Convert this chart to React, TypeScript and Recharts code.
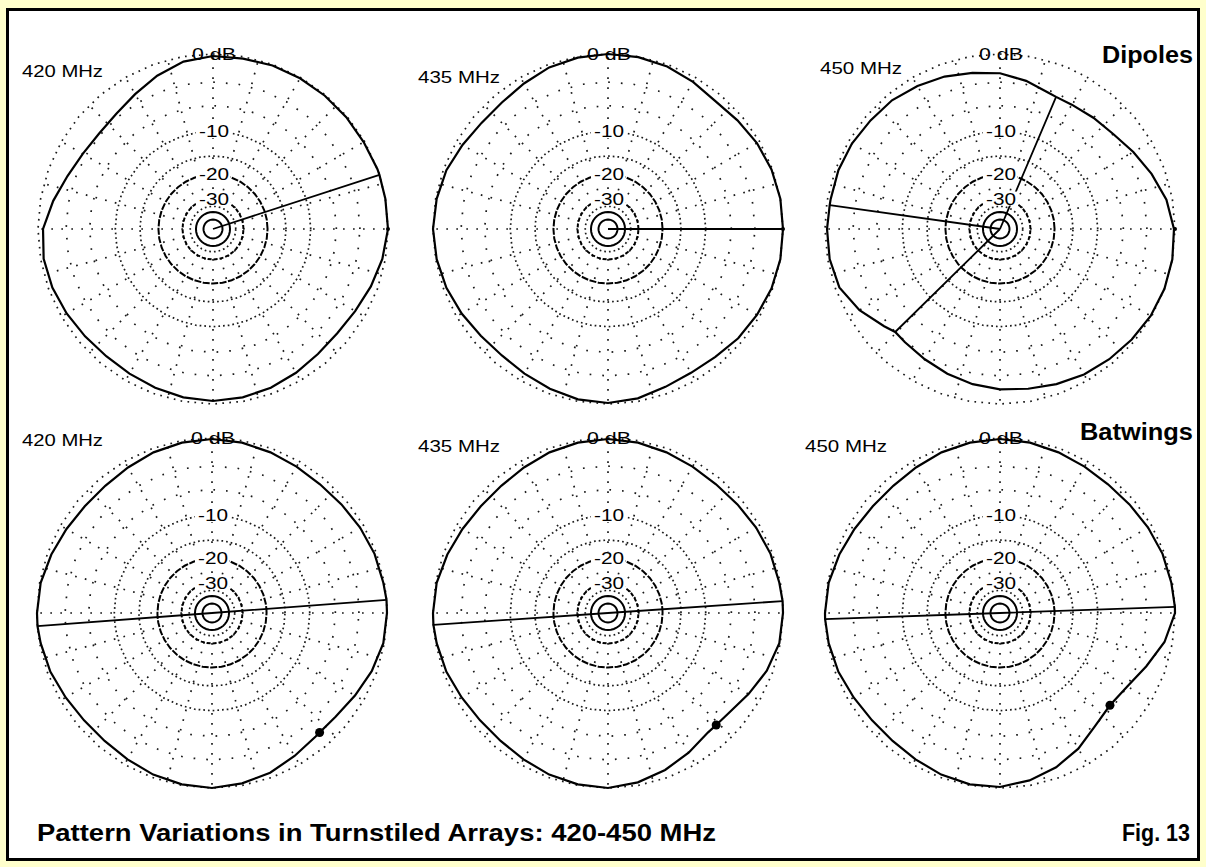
import React from 'react';
import { RadarChart, Radar, PolarGrid, PolarAngleAxis, PolarRadiusAxis } from 'recharts';

// ---------- data ----------
const AZIMUTHS = [0, 10, 20, 30, 40, 50, 60, 70, 80, 90, 100, 110, 120, 130, 140, 150, 160, 170, 180, 190, 200, 210, 220, 230, 240, 250, 260, 270, 280, 290, 300, 310, 320, 330, 340, 350];
const SPOKE_AZ = [0, 15, 30, 45, 60, 75, 90, 105, 120, 135, 150, 165, 180, 195, 210, 225, 240, 255, 270, 285, 300, 315, 330, 345];
const RING_DB = [0, -3, -6, -10, -15, -20, -30, -35, -40, -50];
const TICK_DB = [0, -10, -20, -30];
const TICK_LABELS = ['0 dB', '-10', '-20', '-30'];

// relative field strength (dB) at AZIMUTHS
const DIP_420 = [0, 0, 0, -0.1, -0.1, -0.1, -0.1, -0.1, -0.2, -0.2, -0.5, -1.2, -2.0, -2.6, -2.8, -2.6, -2.1, -1.3, -0.5, -0.3, -0.4, -0.6, -0.8, -0.9, -0.8, -0.6, -0.4, -0.3, -0.4, -0.6, -0.9, -1.2, -1.3, -1.1, -0.7, -0.3];
const DIP_435 = [0, 0, -0.1, -0.3, -0.6, -0.8, -0.5, -0.2, -0.05, 0, -0.1, -0.3, -0.7, -1.0, -1.0, -0.7, -0.3, -0.1, 0, -0.1, -0.3, -0.6, -0.9, -1.0, -0.8, -0.5, -0.2, -0.1, -0.3, -0.7, -0.9, -0.8, -0.5, -0.3, -0.1, 0];
const DIP_450 = [-0.1, -0.6, -1.4, -2.2, -2.9, -3.2, -3.4, -3.3, -2.6, -2.0, -1.7, -1.3, -1.0, -0.7, -0.6, -0.4, -0.3, -0.3, -0.2, -0.2, -0.4, -1.3, -2.5, -2.9, -2.6, -2.2, -1.8, -1.5, -1.3, -1.0, -0.7, -0.5, -0.3, -0.1, 0, 0];
const BAT_420 = [0, -0.1, -0.2, -0.4, -0.6, -0.7, -0.6, -0.4, -0.2, -0.1, -0.2, -0.4, -0.7, -0.9, -0.9, -0.7, -0.4, -0.1, 0, -0.1, -0.3, -0.6, -0.8, -0.8, -0.6, -0.3, -0.1, 0, -0.2, -0.5, -1.0, -1.4, -1.4, -1.0, -0.5, -0.1];
const BAT_435 = [0, -0.1, -0.2, -0.4, -0.6, -0.7, -0.6, -0.4, -0.2, -0.1, -0.2, -0.4, -0.7, -0.9, -0.9, -0.7, -0.4, -0.1, 0, -0.1, -0.3, -0.6, -0.8, -0.8, -0.6, -0.3, -0.1, 0, -0.3, -0.8, -1.4, -2.0, -1.9, -1.3, -0.6, -0.1];
const BAT_450 = [0, -0.1, -0.2, -0.4, -0.6, -0.7, -0.6, -0.4, -0.2, -0.1, -0.2, -0.4, -0.7, -0.9, -0.9, -0.7, -0.4, -0.1, 0, -0.1, -0.3, -0.6, -0.8, -0.8, -0.6, -0.3, -0.1, -0.1, -0.5, -1.1, -1.9, -2.9, -3.4, -3.0, -2.0, -0.8];

// lines drawn from the plot centre to the pattern (azimuth, dB at the end)
const DIP_420_LINES = [{ az: 18, db: 0 }];
const DIP_435_LINES = [{ az: 0, db: 0 }];
const DIP_450_LINES = [{ az: 67, db: -3.4 }, { az: 172, db: -0.3 }, { az: 224.5, db: -3.0 }];
const BAT_420_LINES = [{ az: 4.3, db: 0 }, { az: 184.3, db: 0 }];
const BAT_435_LINES = [{ az: 3.9, db: 0 }, { az: 183.9, db: 0 }];
const BAT_450_LINES = [{ az: 2, db: 0 }, { az: 182, db: 0 }];

// cursor markers on the pattern
const DIP_420_MARK = { az: 0, db: 0 };
const DIP_435_MARK = { az: 0, db: 0 };
const DIP_450_MARK = { az: 0, db: 0 };
const BAT_420_MARK = { az: 312, db: -1.45 };
const BAT_435_MARK = { az: 314, db: -2.0 };
const BAT_450_MARK = { az: 320, db: -3.4 };

// ---------- helpers ----------
// ARRL log-periodic radial scale: 0.89 per 2 dB
const arrl = (db: number) => Math.pow(0.89, -db / 2);

function buildTable(pattern: number[], lines: { az: number; db: number }[], mark: { az: number; db: number }) {
  const extra = [...lines, mark].filter((p) => AZIMUTHS.indexOf(p.az) < 0);
  const set = new Set<number>([...AZIMUTHS, ...extra.map((p) => p.az)]);
  const azs = Array.from(set).sort((a, b) => a - b);
  return azs.map((az) => {
    const row: any = { az };
    const i = AZIMUTHS.indexOf(az);
    const ex = extra.find((p) => p.az === az);
    row.pattern = i >= 0 ? arrl(pattern[i]) : arrl(ex ? ex.db : 0);
    RING_DB.forEach((db, k) => {
      row['ring' + k] = arrl(db);
    });
    row.mask = arrl(-31);
    lines.forEach((l, k) => {
      row['line' + k] = az === l.az ? arrl(l.db) : 0;
    });
    row.mark = az === mark.az ? arrl(mark.db) : 0;
    return row;
  });
}

function ringStyle(db: number) {
  switch (db) {
    case 0:
      return { stroke: '#1a1a1a', strokeWidth: 1.7, strokeDasharray: '1.7 5.3' };
    case -3:
    case -6:
      return { stroke: '#1a1a1a', strokeWidth: 1.7, strokeDasharray: '1.7 11' };
    case -10:
    case -15:
    case -35:
      return { stroke: '#1a1a1a', strokeWidth: 1.7, strokeDasharray: '1.7 3' };
    case -20:
      return { stroke: '#000', strokeWidth: 2, strokeDasharray: '7 1.5' };
    case -30:
      return { stroke: '#000', strokeWidth: 2, strokeDasharray: '4 2' };
    default:
      return { stroke: '#000', strokeWidth: 2, strokeDasharray: undefined };
  }
}

const FONT = '"Liberation Sans", Arial, Helvetica, sans-serif';
const TICK_WIDTHS = [44, 30, 30, 30];

function RadiusTick(props: any) {
  const { x, y, payload } = props;
  const idx = TICK_DB.findIndex((d) => Math.abs(arrl(d) - payload.value) < 1e-6);
  if (idx < 0) return null;
  const w = TICK_WIDTHS[idx];
  return (
    <g>
      {idx > 0 && <rect x={x - w / 2 - 2} y={y - 7} width={w + 4} height={14} fill="#fff" />}
      <text x={x + 1} y={y + 6} textAnchor="middle" fontSize={17} fontFamily={FONT} fill="#000" textLength={w} lengthAdjust="spacingAndGlyphs">
        {TICK_LABELS[idx]}
      </text>
    </g>
  );
}

function MarkDot(props: any) {
  const { cx, cy, value, big } = props;
  if (!value || !isFinite(cx) || !isFinite(cy)) return <g />;
  return <circle cx={cx} cy={cy} r={big ? 4.5 : 2} fill="#000" />;
}

function Panel({ cx, cy, pattern, lines, mark, big }: any) {
  const data = buildTable(pattern, lines, mark);
  return (
    <div style={{ position: 'absolute', left: cx - 200, top: cy - 200, width: 400, height: 400 }}>
      <RadarChart width={400} height={400} data={data} startAngle={0} endAngle={360} outerRadius={175} innerRadius={0} margin={{ top: 0, right: 0, bottom: 0, left: 0 }}>
        <PolarGrid gridType="circle" polarAngles={SPOKE_AZ} polarRadius={[]} stroke="#1a1a1a" strokeWidth={1.7} strokeDasharray="1.7 8.3" />
        <PolarAngleAxis dataKey="az" type="number" domain={[0, 360]} tick={false} axisLine={false} tickLine={false} />
        <Radar dataKey="mask" stroke="none" fill="#fff" fillOpacity={1} dot={false} isAnimationActive={false} legendType="none" />
        {RING_DB.map((db, k) => {
          const s = ringStyle(db);
          return (
            <Radar key={'r' + k} dataKey={'ring' + k} fill="none" stroke={s.stroke} strokeWidth={s.strokeWidth} strokeDasharray={s.strokeDasharray} dot={false} isAnimationActive={false} legendType="none" />
          );
        })}
        <Radar dataKey="pattern" fill="none" stroke="#000" strokeWidth={2.2} dot={false} isAnimationActive={false} legendType="none" />
        {lines.map((l: any, k: number) => (
          <Radar key={'l' + k} dataKey={'line' + k} fill="none" stroke="#000" strokeWidth={1.8} dot={false} isAnimationActive={false} legendType="none" />
        ))}
        <Radar dataKey="mark" fill="none" stroke="none" dot={(p: any) => <MarkDot key={'m' + p.index} {...p} big={big} />} isAnimationActive={false} legendType="none" />
        <PolarRadiusAxis angle={90} domain={[0, 1]} ticks={TICK_DB.map(arrl)} axisLine={false} tick={<RadiusTick />} tickLine={false} />
      </RadarChart>
    </div>
  );
}

const PANELS = [
  { cx: 213, cy: 229, pattern: DIP_420, lines: DIP_420_LINES, mark: DIP_420_MARK, big: false },
  { cx: 608, cy: 229, pattern: DIP_435, lines: DIP_435_LINES, mark: DIP_435_MARK, big: false },
  { cx: 1000, cy: 229, pattern: DIP_450, lines: DIP_450_LINES, mark: DIP_450_MARK, big: false },
  { cx: 212, cy: 613, pattern: BAT_420, lines: BAT_420_LINES, mark: BAT_420_MARK, big: true },
  { cx: 608, cy: 613, pattern: BAT_435, lines: BAT_435_LINES, mark: BAT_435_MARK, big: true },
  { cx: 1000, cy: 613, pattern: BAT_450, lines: BAT_450_LINES, mark: BAT_450_MARK, big: true },
];

export default function App() {
  const small = { fontFamily: FONT, fontSize: 17, fill: '#000' } as any;
  const bold = { fontFamily: FONT, fontWeight: 'bold', fill: '#000', whiteSpace: 'pre' } as any;
  return (
    <div style={{ position: 'absolute', left: 0, top: 0, width: 1206, height: 867, background: '#FFFFCC', overflow: 'hidden' }}>
      <div style={{ position: 'absolute', left: 6, top: 8, width: 1188, height: 847, border: '3px solid #000', background: '#fff' }} />
      {PANELS.map((p, i) => (
        <Panel key={i} {...p} />
      ))}
      <svg width={1206} height={867} style={{ position: 'absolute', left: 0, top: 0, pointerEvents: 'none' }}>
        <text x={22} y={77} {...small} textLength={81} lengthAdjust="spacingAndGlyphs">420 MHz</text>
        <text x={418} y={83} {...small} textLength={82} lengthAdjust="spacingAndGlyphs">435 MHz</text>
        <text x={820} y={74} {...small} textLength={82} lengthAdjust="spacingAndGlyphs">450 MHz</text>
        <text x={1102} y={63} {...bold} fontSize={24} textLength={91} lengthAdjust="spacingAndGlyphs">Dipoles</text>
        <text x={22} y={446} {...small} textLength={81} lengthAdjust="spacingAndGlyphs">420 MHz</text>
        <text x={418} y={452} {...small} textLength={82} lengthAdjust="spacingAndGlyphs">435 MHz</text>
        <text x={805} y={452} {...small} textLength={82} lengthAdjust="spacingAndGlyphs">450 MHz</text>
        <text x={1080} y={440} {...bold} fontSize={24} textLength={113} lengthAdjust="spacingAndGlyphs">Batwings</text>
        <text x={37} y={841} {...bold} fontSize={24} textLength={679} lengthAdjust="spacingAndGlyphs">Pattern Variations in Turnstiled Arrays:  420-450 MHz</text>
        <text x={1122} y={841} {...bold} fontSize={24} textLength={68} lengthAdjust="spacingAndGlyphs">Fig. 13</text>
      </svg>
    </div>
  );
}
